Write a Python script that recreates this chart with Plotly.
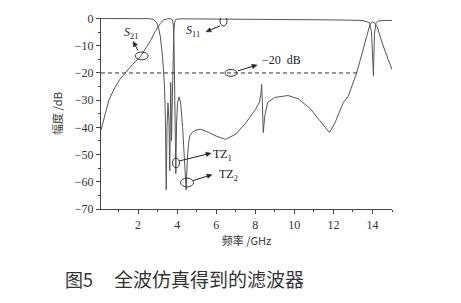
import math
import plotly.graph_objects as go

# ---- data ----
s21_f = [0.1, 0.3, 0.5, 0.8, 1.05, 1.35, 1.7, 2.1, 2.4, 2.65, 2.85, 3.0, 3.14, 3.3, 3.5, 3.65, 3.75,
         3.8, 3.84, 3.88, 3.93, 3.97, 4.02, 4.1, 4.18, 4.28, 4.38, 4.46, 4.52, 4.58, 4.65, 4.78, 4.95,
         5.2, 5.6, 6.0, 6.47, 7.0, 7.5, 8.0, 8.2, 8.28, 8.33, 8.37, 8.41, 8.48, 8.63, 9.0, 9.67,
         10.2, 10.8, 11.3, 11.8, 12.1, 12.5, 12.76, 13.19, 13.5, 13.75, 13.87, 14.0, 14.1, 14.24,
         14.5, 14.8, 15.05]
s21_db = [-41, -35, -30, -25.5, -22.5, -20, -17, -14.2, -11, -8, -5, -3.3, -1.8, -0.5, -0.1, -0.1, -0.4,
          -2, -10, -30, -57, -38, -31, -28.8, -31, -40, -52, -63, -52, -46, -43, -41.8, -41,
          -40.7, -41.8, -43.2, -44.4, -42.5, -38.5, -33.5, -31, -28, -24.2, -33, -41.9, -36, -30.8, -29, -28.3,
          -29.5, -33, -37.5, -41.9, -38, -31, -28.5, -20, -12, -5, -2.2, -1.2, -1.5, -3,
          -9, -15, -19.5]

s11_f = [0.1, 1.0, 2.0, 2.6, 2.78, 2.95, 3.05, 3.14, 3.25, 3.35, 3.4, 3.44, 3.48, 3.53, 3.58, 3.62,
         3.67, 3.71, 3.75, 3.79, 3.83, 3.87, 3.92, 4.2, 6.0, 9.0, 12.0, 13.5, 13.85, 13.95, 14.0,
         14.05, 14.1, 14.17, 14.3, 14.6, 15.05]
s11_db = [0, 0, 0, -0.05, -0.3, -1.5, -3.5, -6.7, -14, -24.6, -38, -63, -40, -31, -38, -56,
          -23.5, -45, -30, -14, -5, -1.5, -0.3, -0.1, -0.15, -0.3, -0.5, -0.7, -1.5, -5, -12,
          -21, -6, -1.8, -0.9, -0.7, -0.7]

ref_f = [0.1, 13.2]
ref_db = [-20, -20]

x_ticks = [2, 4, 6, 8, 10, 12, 14]
y_ticks = [0, -10, -20, -30, -40, -50, -60, -70]
y_ticktext = ["0", "−10", "−20", "−30", "−40", "−50", "−60", "−70"]

# ---- layout geometry ----
W, H = 461, 303
ML, MR, MT, MB = 101, 69, 14, 94
XR = [0.1, 15]
YR = [-70, 0.2]
PW, PH = W - ML - MR, H - MT - MB


def px2x(px):
    return XR[0] + (px - ML) / PW * (XR[1] - XR[0])


def px2y(py):
    return YR[1] - (py - MT) / PH * (YR[1] - YR[0])


LINE = "#555555"
fig = go.Figure()
fig.add_trace(go.Scatter(x=s21_f, y=s21_db, mode="lines", line=dict(color=LINE, width=1), name="S21"))
fig.add_trace(go.Scatter(x=s11_f, y=s11_db, mode="lines", line=dict(color=LINE, width=1), name="S11"))
fig.add_trace(go.Scatter(x=ref_f, y=ref_db, mode="lines",
                         line=dict(color="#333333", width=1, dash="4px,3px"), name="ref"))

serif = "Liberation Serif"
tickfont = dict(family=serif, size=12, color="#333333")
cjk = "Noto Sans CJK SC"

fig.update_layout(
    width=W, height=H, margin=dict(l=ML, r=MR, t=MT, b=MB),
    paper_bgcolor="white", plot_bgcolor="white", showlegend=False,
    xaxis=dict(range=XR, tickvals=x_ticks, showgrid=False, zeroline=False,
               showline=True, linecolor="#444444", linewidth=1.3, ticks="outside", ticklen=4,
               tickcolor="#444444", tickfont=tickfont,
               minor=dict(tickvals=[1, 3, 5, 7, 9, 11, 13, 15], ticks="outside", ticklen=2, tickcolor="#444444"),
               title=dict(text="频率 /GHz", font=dict(family=cjk, size=11, color="#333333"), standoff=6)),
    yaxis=dict(range=YR, tickvals=y_ticks, ticktext=y_ticktext,
               showgrid=False, zeroline=False,
               showline=True, linecolor="#444444", linewidth=1.3, ticks="outside", ticklen=4,
               tickcolor="#444444", tickfont=tickfont,
               minor=dict(tickvals=[-5, -15, -25, -35, -45, -55, -65], ticks="outside", ticklen=2,
                          tickcolor="#444444"),
               title=dict(text="幅度 /dB", font=dict(family=cjk, size=11, color="#333333"), standoff=9)),
)

# ellipses: centre px, width px, height px
ellipses = [(141.7, 52.7, 13, 8), (223.5, 17, 7, 10), (231, 70, 12, 7),
            (176, 162, 7, 10), (187, 182, 13, 9)]
for cx, cy, w, h in ellipses:
    fig.add_shape(type="circle", xref="x", yref="y",
                  x0=px2x(cx - w / 2), x1=px2x(cx + w / 2), y0=px2y(cy + h / 2), y1=px2y(cy - h / 2),
                  line=dict(color="#333333", width=1))

# arrows: tail px -> head px
arrows = [((138, 47), (133, 38)), ((220, 22), (206, 28)), ((238, 68), (257, 62)),
          ((179, 160), (211, 152)), ((193, 180), (212, 174))]
for (tx, ty), (hx, hy) in arrows:
    dx, dy = hx - tx, hy - ty
    L = math.hypot(dx, dy)
    ux, uy = dx / L, dy / L
    nx, ny = -uy, ux
    bx, by = hx - 5 * ux, hy - 5 * uy
    fig.add_shape(type="line", xref="x", yref="y", x0=px2x(tx), y0=px2y(ty), x1=px2x(bx), y1=px2y(by),
                  line=dict(color="#222222", width=1))
    pts = [(hx, hy), (bx + 2.3 * nx, by + 2.3 * ny), (bx - 2.3 * nx, by - 2.3 * ny)]
    path = "M " + " L ".join(f"{px2x(a):.4f},{px2y(b):.4f}" for a, b in pts) + " Z"
    fig.add_shape(type="path", xref="x", yref="y", path=path,
                  fillcolor="#222222", line=dict(color="#222222", width=0.5))

lab_font = dict(family=serif, size=12, color="#222222")
labels = [(131, 29, "<i>S</i><sub>21</sub>"), (193, 27, "<i>S</i><sub>11</sub>"),
          (281, 57, "−20  dB"), (222, 154, "TZ<sub>1</sub>"), (228, 174, "TZ<sub>2</sub>")]
for lx, ly, t in labels:
    fig.add_annotation(x=px2x(lx), y=px2y(ly), xref="x", yref="y", text=t, showarrow=False, font=lab_font)

cap_font = dict(family=cjk, size=18, color="#333333")
cap_y = -(280 - (MT + PH)) / PH
fig.add_annotation(x=(63 - ML) / PW, y=cap_y, xref="paper", yref="paper", xanchor="left", yanchor="middle",
                   text="图5", showarrow=False, font=cap_font)
fig.add_annotation(x=(112 - ML) / PW, y=cap_y, xref="paper", yref="paper", xanchor="left", yanchor="middle",
                   text="全波仿真得到的滤波器", showarrow=False, font=dict(family=cjk, size=19, color="#333333"))

fig.write_html("out.html")
